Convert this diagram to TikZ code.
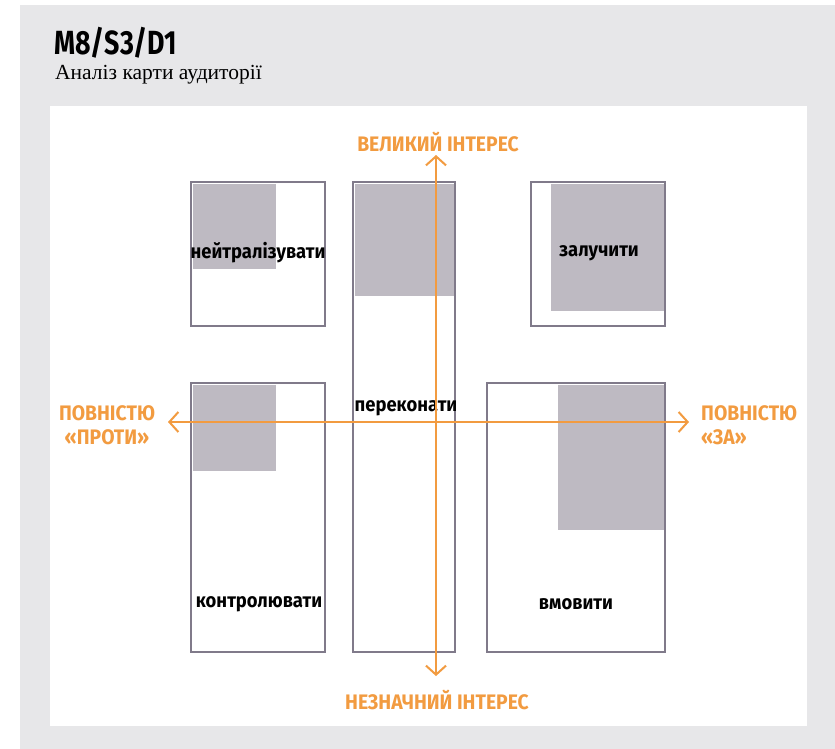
\documentclass[tikz,border=0pt]{standalone}
\usepackage{fontspec}
\setmainfont{Liberation Serif}
\newfontfamily\dinfont[FakeStretch=0.92]{Fira Sans}
\newfontfamily\dintitulo[FakeStretch=0.8]{Fira Sans}
\usetikzlibrary{arrows.meta}

\definecolor{fondo}{HTML}{E7E7E9}
\definecolor{borde}{HTML}{807A8A}
\definecolor{sombra}{HTML}{BEBAC2}
\definecolor{naranja}{HTML}{F29B40}

\tikzset{
	caja/.style={draw=borde, line width=2.4pt},
	eje/.style={draw=naranja, line width=2pt, {Straight Barb[length=9pt,width=20pt]}-{Straight Barb[length=9pt,width=20pt]}},
	accion/.style={inner sep=0pt, font=\dinfont\bfseries\fontsize{20}{22}\selectfont},
	rotulo/.style={inner sep=0pt, text=naranja, align=center, font=\dinfont\bfseries\fontsize{21}{24}\selectfont}
}

\begin{document}
\begin{tikzpicture}[x=1pt, y=-1pt]
	\useasboundingbox (0,0) rectangle (835,749);
	% Fondo y panel
		\fill[fondo] (20,5) rectangle (835,749);
		\fill[white] (50,106) rectangle (807,726);
	% Título
		\node[anchor=base west, inner sep=0pt, font=\dintitulo\bfseries\fontsize{33.5}{36}\selectfont] (titulo) at (54,55) {M8/S3/D1};
		\node[anchor=base west, inner sep=0pt, font=\fontsize{21.5}{24}\selectfont] (subtitulo) at (55,80) {Аналіз карти аудиторії};

	% Zonas sombreadas
		\fill[sombra] (193,184) rectangle (276,269);
		\fill[sombra] (355,184) rectangle (455,296);
		\fill[sombra] (551,184) rectangle (665,311);
		\fill[sombra] (193,385) rectangle (276,471);
		\fill[sombra] (558,385) rectangle (665,530);

	% Cajas
		\draw[caja] (191,182) rectangle (325,326);
		\draw[caja] (353,182) rectangle (455,652);
		\draw[caja] (531,182) rectangle (665,326);
		\draw[caja] (191,383) rectangle (325,652);
		\draw[caja] (487,383) rectangle (665,652);

	% Acciones
		\node[accion] (neutralizar) at (258,253) {нейтралізувати};
		\node[accion] (persuadir) at (406,408) {переконати};
		\node[accion] (involucrar) at (599,253) {залучити};
		\node[accion] (controlar) at (259,604) {контролювати};
		\node[accion] (convencer) at (576,604) {вмовити};

	% Ejes
		% Interés
			\node[rotulo] (alto) at (438,142) {ВЕЛИКИЙ ІНТЕРЕС};
			\node[rotulo] (bajo) at (437,700) {НЕЗНАЧНИЙ ІНТЕРЕС};
			\coordinate (arriba) at (436,155);
			\coordinate (abajo) at (436,676);
			\draw[eje] (abajo) -- (arriba);
		% Postura
			\node[rotulo] (contra) at (107,425) {ПОВНІСТЮ\\«ПРОТИ»};
			\node[rotulo, align=left, anchor=west] (favor) at (701,425) {ПОВНІСТЮ\\«ЗА»};
			\coordinate (izquierda) at (168,422);
			\coordinate (derecha) at (689,422);
			\draw[eje] (izquierda) -- (derecha);
\end{tikzpicture}
\end{document}
